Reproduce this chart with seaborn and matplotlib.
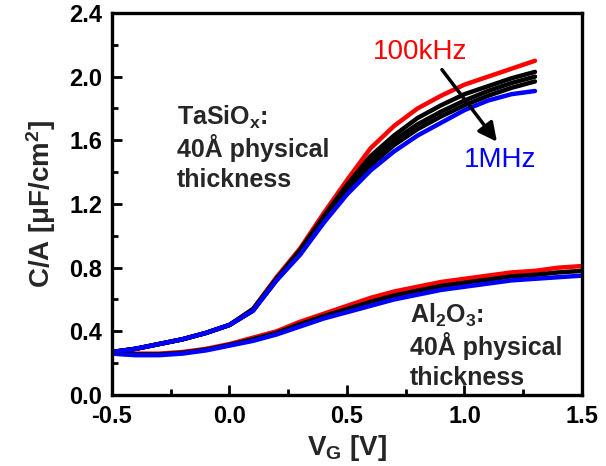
import numpy as np
import pandas as pd
import matplotlib
matplotlib.use("Agg")
import matplotlib.pyplot as plt
import seaborn as sns

# Gate voltage grids [V]
vg_tasio = [-0.5, -0.4, -0.3, -0.2, -0.1, 0.0, 0.1, 0.2, 0.3, 0.4,
            0.5, 0.6, 0.7, 0.8, 0.9, 1.0, 1.1, 1.2, 1.3]
vg_al2o3 = [-0.5, -0.4, -0.3, -0.2, -0.1, 0.0, 0.1, 0.2, 0.3, 0.4,
            0.5, 0.6, 0.7, 0.8, 0.9, 1.0, 1.1, 1.2, 1.3, 1.4, 1.5]

# TaSiOx capacitance density [uF/cm^2], 100 kHz -> 1 MHz
tasio_100k = [0.27, 0.29, 0.32, 0.35, 0.39, 0.44, 0.54, 0.74, 0.92, 1.14,
              1.35, 1.55, 1.69, 1.80, 1.88, 1.95, 2.00, 2.05, 2.10]
tasio_f2 = [0.27, 0.29, 0.32, 0.35, 0.39, 0.44, 0.54, 0.73, 0.91, 1.12,
            1.32, 1.50, 1.63, 1.74, 1.82, 1.89, 1.94, 1.99, 2.03]
tasio_f3 = [0.27, 0.29, 0.32, 0.35, 0.39, 0.44, 0.53, 0.73, 0.90, 1.11,
            1.30, 1.47, 1.60, 1.70, 1.78, 1.85, 1.91, 1.96, 2.00]
tasio_f4 = [0.27, 0.29, 0.32, 0.35, 0.39, 0.44, 0.53, 0.72, 0.89, 1.09,
            1.28, 1.44, 1.57, 1.67, 1.75, 1.82, 1.88, 1.93, 1.97]
tasio_1m = [0.27, 0.29, 0.32, 0.35, 0.39, 0.44, 0.53, 0.72, 0.88, 1.08,
            1.26, 1.41, 1.53, 1.63, 1.71, 1.79, 1.85, 1.89, 1.91]

# Al2O3 capacitance density [uF/cm^2]
al2o3_100k = [0.26, 0.26, 0.26, 0.27, 0.29, 0.32, 0.36, 0.40, 0.46, 0.51,
              0.56, 0.61, 0.65, 0.68, 0.71, 0.73, 0.75, 0.77, 0.78, 0.80, 0.81]
al2o3_mid = [0.26, 0.255, 0.255, 0.265, 0.285, 0.315, 0.35, 0.39, 0.445, 0.495,
             0.54, 0.585, 0.625, 0.655, 0.685, 0.705, 0.725, 0.745, 0.755, 0.77, 0.78]
al2o3_1m = [0.26, 0.25, 0.25, 0.26, 0.28, 0.31, 0.34, 0.38, 0.43, 0.48,
            0.52, 0.56, 0.60, 0.63, 0.66, 0.68, 0.70, 0.72, 0.73, 0.74, 0.75]

tasio_series = {"100kHz": tasio_100k, "f2": tasio_f2, "f3": tasio_f3,
                "f4": tasio_f4, "1MHz": tasio_1m}
al2o3_series = {"100kHz": al2o3_100k, "mid": al2o3_mid, "1MHz": al2o3_1m}

tasio_df = pd.concat([pd.DataFrame({"VG": vg_tasio, "C": v, "freq": k})
                      for k, v in tasio_series.items()], ignore_index=True)
al2o3_df = pd.concat([pd.DataFrame({"VG": vg_al2o3, "C": v, "freq": k})
                      for k, v in al2o3_series.items()], ignore_index=True)

sns.set_theme(style="ticks")
plt.rcParams["font.family"] = ["Liberation Sans", "DejaVu Sans"]
plt.rcParams["mathtext.default"] = "regular"

fig = plt.figure(figsize=(6.06, 4.66), dpi=100)
ax = fig.add_axes([0.1848, 0.1524, 0.7756, 0.8197])

tasio_pal = {"100kHz": "#ff0000", "f2": "black", "f3": "black",
             "f4": "black", "1MHz": "#0000ff"}
al2o3_pal = {"100kHz": "#ff0000", "mid": "black", "1MHz": "#0000ff"}

sns.lineplot(data=al2o3_df, x="VG", y="C", hue="freq", palette=al2o3_pal,
             hue_order=list(al2o3_series), lw=3.2, legend=False, ax=ax,
             sort=False)
sns.lineplot(data=tasio_df, x="VG", y="C", hue="freq", palette=tasio_pal,
             hue_order=list(tasio_series), lw=3.2, legend=False, ax=ax,
             sort=False)

ax.set_xlim(-0.5, 1.5)
ax.set_ylim(0.0, 2.4)
ax.set_xticks([-0.5, 0.0, 0.5, 1.0, 1.5])
ax.set_xticklabels(["-0.5", "0.0", "0.5", "1.0", "1.5"])
ax.set_yticks([0.0, 0.4, 0.8, 1.2, 1.6, 2.0, 2.4])
ax.set_yticklabels(["0.0", "0.4", "0.8", "1.2", "1.6", "2.0", "2.4"])
ax.set_xticks(np.arange(-0.5, 1.51, 0.25), minor=True)
ax.set_yticks(np.arange(0.0, 2.41, 0.2), minor=True)

for side in ax.spines.values():
    side.set_linewidth(2.4)
    side.set_color("black")
ax.tick_params(which="major", direction="in", length=7, width=2.0,
               labelsize=17, pad=7, colors="black")
ax.tick_params(which="minor", direction="in", length=4, width=2.0,
               colors="black")
for lab in ax.get_xticklabels() + ax.get_yticklabels():
    lab.set_fontweight("bold")

ax.set_xlabel("V$_G$ [V]", fontsize=20, fontweight="bold", labelpad=4)
ax.set_ylabel("C/A [μF/cm$^2$]", fontsize=20, fontweight="bold", labelpad=8)

# Frequency annotation
ax.text(0.81, 2.157, "100kHz", color="#ff0000", fontsize=20,
        ha="center", va="center")
ax.text(1.151, 1.478, "1MHz", color="#0000ff", fontsize=20,
        ha="center", va="center")
ax.annotate("", xy=(1.138, 1.591), xytext=(0.904, 2.044),
            arrowprops=dict(arrowstyle="-|>", lw=2.5, color="black",
                            mutation_scale=28, shrinkA=0, shrinkB=0))

# Film labels
for txt, y in zip(["TaSiO$_x$:", "40Å physical", "thickness"],
                  [1.698, 1.497, 1.308]):
    ax.text(-0.223, y, txt, fontsize=18, fontweight="bold",
            ha="left", va="baseline")
for txt, y in zip(["Al$_2$O$_3$:", "40Å physical", "thickness"],
                  [0.453, 0.252, 0.063]):
    ax.text(0.768, y, txt, fontsize=18, fontweight="bold",
            ha="left", va="baseline")

fig.savefig("out.png", dpi=100)
